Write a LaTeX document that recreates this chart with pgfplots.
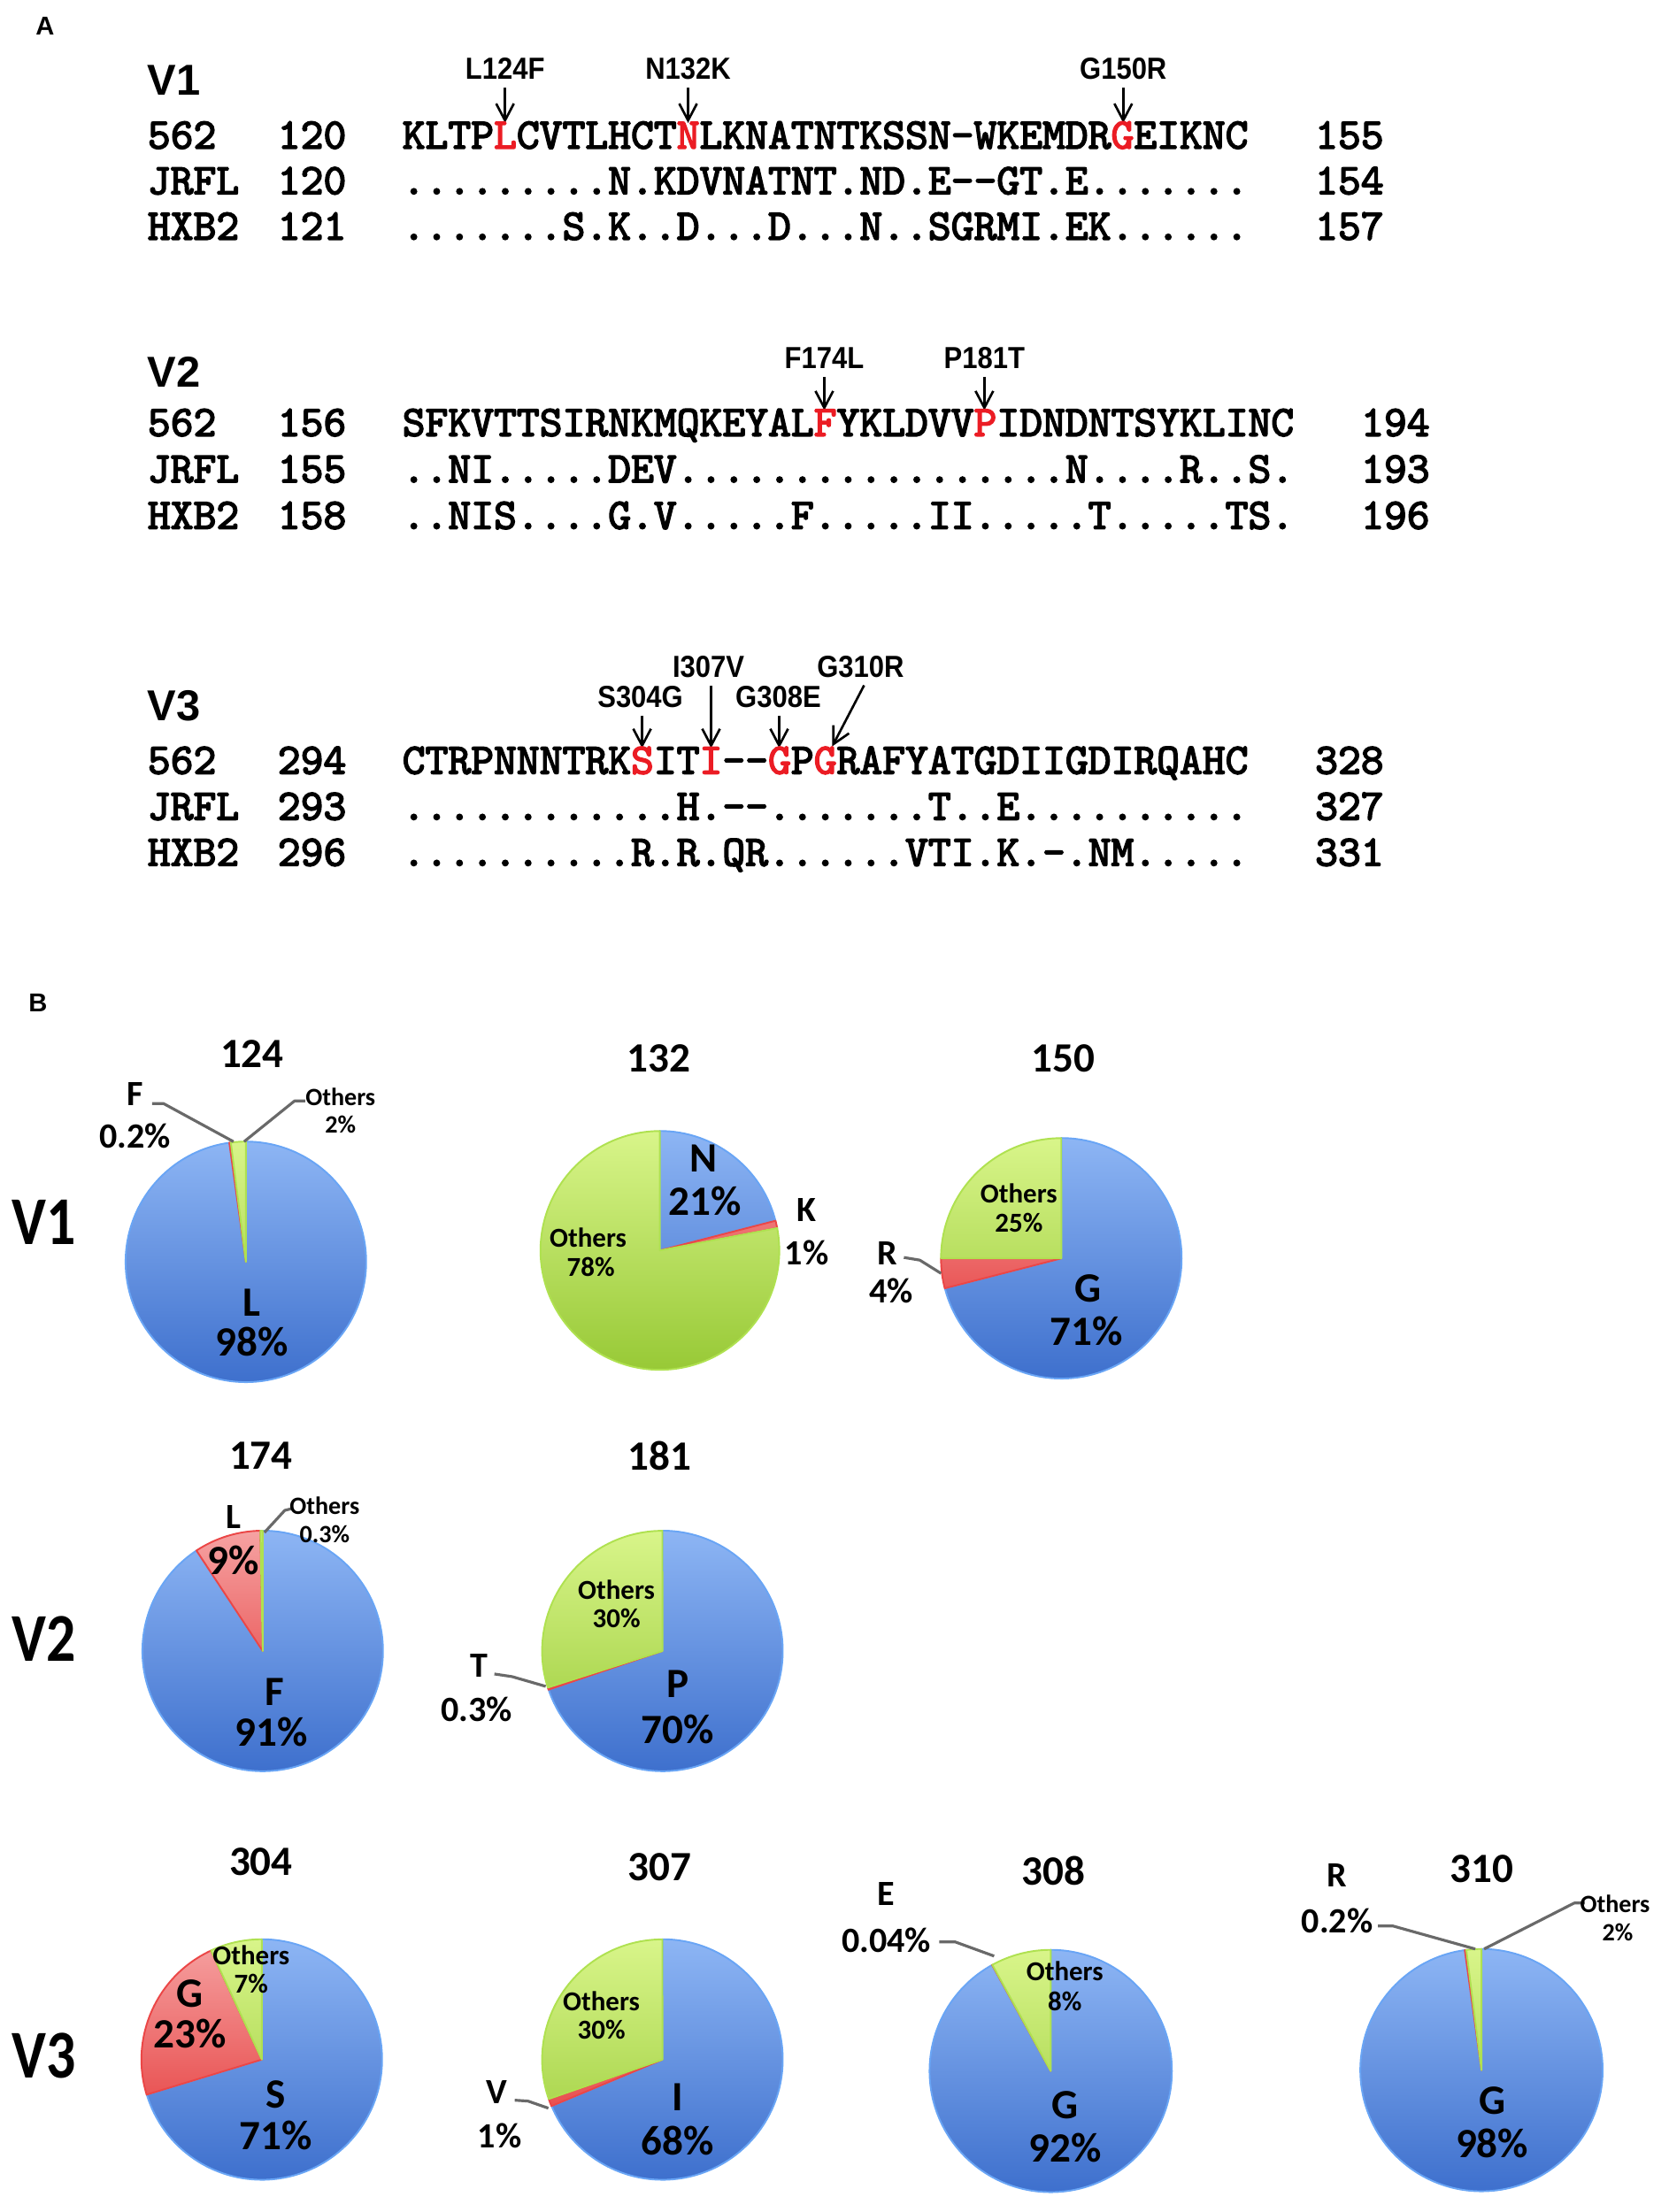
\documentclass[border=0pt]{standalone}
\usepackage{pgfplots}
\pgfplotsset{compat=1.18}
\usepackage{pgfplotstable}
\usetikzlibrary{arrows.meta}
\usepackage{fontspec}
\setmainfont{Liberation Sans}
\newfontfamily\narrowsans{Liberation Sans}[FakeStretch=0.9]
\newfontfamily\calfont{Carlito}
\newfontfamily\calnarrow{Carlito}[FakeStretch=0.85]
\newfontfamily\seqfont{lmmono10-regular}[Extension=.otf, FakeBold=3.2]

% colours
\definecolor{mutred}{RGB}{235,28,36}
\definecolor{blueTop}{RGB}{143,183,245}
\definecolor{blueBot}{RGB}{60,110,204}
\definecolor{blueEdge}{RGB}{105,165,245}
\definecolor{greenTop}{RGB}{218,246,140}
\definecolor{greenBot}{RGB}{150,200,52}
\definecolor{greenEdge}{RGB}{175,225,80}
\definecolor{redTop}{RGB}{246,165,165}
\definecolor{redBot}{RGB}{226,40,40}
\definecolor{redEdge}{RGB}{235,70,70}
\definecolor{leader}{RGB}{105,105,105}

% fonts
\newcommand\seqf{\seqfont\fontsize{14pt}{14pt}\selectfont}
\newcommand\regf{\bfseries\fontsize{13.9pt}{13.9pt}\selectfont}
\newcommand\mutf{\narrowsans\bfseries\fontsize{9.8pt}{9.8pt}\selectfont}
\newcommand\panf{\bfseries\fontsize{8.3pt}{8.3pt}\selectfont}
\newcommand\tlf{\calfont\bfseries\fontsize{13.4pt}{13.4pt}\selectfont}
\newcommand\olf{\calfont\bfseries\fontsize{11.4pt}{11.4pt}\selectfont}
\newcommand\smf{\calfont\bfseries\fontsize{8pt}{8pt}\selectfont}
\newcommand\inpf{\calfont\bfseries\fontsize{8.8pt}{8.8pt}\selectfont}
\newcommand\vf{\calnarrow\bfseries\fontsize{22pt}{22pt}\selectfont}

\newcommand\R[1]{\textcolor{mutred}{#1}}
\newcommand\hy{\mbox{-}}

% residue frequencies at each position (percent), clockwise from 12 o'clock
\pgfplotstableread{
res pct col
L 98 blue
F 0.2 red
Others 2 green
}\pieA
\pgfplotstableread{
res pct col
N 21 blue
K 1 red
Others 78 green
}\pieB
\pgfplotstableread{
res pct col
G 71 blue
R 4 red
Others 25 green
}\pieC
\pgfplotstableread{
res pct col
F 91 blue
L 9 red
Others 0.3 green
}\pieD
\pgfplotstableread{
res pct col
P 70 blue
T 0.3 red
Others 30 green
}\pieE
\pgfplotstableread{
res pct col
S 71 blue
G 23 red
Others 7 green
}\pieF
\pgfplotstableread{
res pct col
I 68 blue
V 1 red
Others 30 green
}\pieG
\pgfplotstableread{
res pct col
G 92 blue
E 0.04 red
Others 8 green
}\pieH
\pgfplotstableread{
res pct col
G 98 blue
R 0.2 red
Others 2 green
}\pieI

% one wedge: start angle, end angle (degrees clockwise from top), colour name
\newcommand\pieslice[3]{%
  \pgfmathsetmacro\psx{sin(#1)}%
  \pgfmathsetmacro\psy{cos(#1)}%
  \pgfmathsetmacro\psa{90-#1}%
  \pgfmathsetmacro\psb{90-#2}%
  \begin{scope}
    \clip (axis cs:0,0) -- (axis cs:\psx,\psy)
      arc[start angle=\psa, end angle=\psb, radius=\pierad cm] -- cycle;
    \shade[top color=#3Top, bottom color=#3Bot]
      (axis cs:-1.05,-1.05) rectangle (axis cs:1.05,1.05);
  \end{scope}
  \draw[#3Edge, line width=0.55pt, line join=round] (axis cs:0,0) -- (axis cs:\psx,\psy)
      arc[start angle=\psa, end angle=\psb, radius=\pierad cm] -- cycle;
}

% whole pie from a table
\newcommand\drawpie[1]{%
  \pgfplotstablegetrowsof{#1}%
  \pgfmathtruncatemacro\pielast{\pgfplotsretval-1}%
  \gdef\pietot{0}%
  \pgfplotsforeachungrouped \k in {0,...,\pielast}{%
    \pgfplotstablegetelem{\k}{pct}\of{#1}%
    \pgfmathsetmacro\pietmp{\pietot+\pgfplotsretval}%
    \global\let\pietot\pietmp}%
  \gdef\piestart{0}%
  \pgfplotsforeachungrouped \k in {0,...,\pielast}{%
    \pgfplotstablegetelem{\k}{pct}\of{#1}%
    \pgfmathsetmacro\piefrac{\pgfplotsretval/\pietot}%
    \pgfmathsetmacro\pieend{\piestart+360*\piefrac}%
    \pgfplotstablegetelem{\k}{col}\of{#1}%
    \edef\piecol{\pgfplotsretval}%
    \pieslice{\piestart}{\pieend}{\piecol}%
    \global\let\piestart\pieend}%
}

% pie axis: table, centre x, centre y, radius (all in px from the top left)
\newcommand\pie[4]{%
  \pgfmathsetmacro\pcx{0.01*#2}%
  \pgfmathsetmacro\pcy{-0.01*#3}%
  \pgfmathsetmacro\pierad{0.01*#4}%
  \pgfmathsetmacro\piewd{0.02*#4}%
  \begin{axis}[at={(\pcx cm,\pcy cm)}, anchor=center, scale only axis,
      width=\piewd cm, height=\piewd cm,
      xmin=-1, xmax=1, ymin=-1, ymax=1, hide axis, clip=false]
    \pgfplotsextra{\drawpie{#1}}
  \end{axis}
}

\tikzset{arr/.style={line width=0.75pt, -{Straight Barb[length=0.19cm, width=0.2cm]}},
  lead/.style={leader, line width=0.9pt, line join=round}}

\begin{document}
\begin{tikzpicture}
\useasboundingbox (0,0) rectangle (18.85,-25);

% V1 pies
\pie{\pieA}{278}{1427}{136}
\pie{\pieB}{746}{1414}{135}
\pie{\pieC}{1200}{1423}{136}
% V2 pies
\pie{\pieD}{297}{1867}{136}
\pie{\pieE}{749}{1867}{136}
% V3 pies
\pie{\pieF}{296}{2329}{136}
\pie{\pieG}{749}{2329}{136}
\pie{\pieH}{1188}{2342}{137}
\pie{\pieI}{1675}{2341}{137}

\begin{scope}[x=0.01cm, y=-0.01cm, every node/.style={inner sep=0pt, outer sep=0pt}]
% ---------------- Panel A ----------------
\node[font=\panf] at (51,29) {A};

% V1
\node[anchor=base west, font=\regf] at (167,108) {V1};
\node[anchor=base, font=\mutf] at (571,90) {L124F};
\node[anchor=base, font=\mutf] at (778,90) {N132K};
\node[anchor=base, font=\mutf] at (1270,90) {G150R};
\draw[arr] (571,99) -- (571,139);
\draw[arr] (778,99) -- (778,139);
\draw[arr] (1270,99) -- (1270,139);
\node[anchor=base west, font=\seqf] at (167,168) {562};
\node[anchor=base west, font=\seqf] at (314,168) {120};
\node[anchor=base west, font=\seqf] at (455,168) {KLTP\R{L}CVTLHCT\R{N}LKNATNTKSSN\hy WKEMDR\R{G}EIKNC};
\node[anchor=base west, font=\seqf] at (1487,168) {155};
\node[anchor=base west, font=\seqf] at (167,219.5) {JRFL};
\node[anchor=base west, font=\seqf] at (314,219.5) {120};
\node[anchor=base west, font=\seqf] at (455,219.5) {.........N.KDVNATNT.ND.E\hy\hy GT.E.......};
\node[anchor=base west, font=\seqf] at (1487,219.5) {154};
\node[anchor=base west, font=\seqf] at (167,271) {HXB2};
\node[anchor=base west, font=\seqf] at (314,271) {121};
\node[anchor=base west, font=\seqf] at (455,271) {.......S.K..D...D...N..SGRMI.EK......};
\node[anchor=base west, font=\seqf] at (1487,271) {157};

% V2
\node[anchor=base west, font=\regf] at (167,438) {V2};
\node[anchor=base, font=\mutf] at (932,417) {F174L};
\node[anchor=base, font=\mutf] at (1113,417) {P181T};
\draw[arr] (932,426) -- (932,464);
\draw[arr] (1113,426) -- (1113,464);
\node[anchor=base west, font=\seqf] at (167,493) {562};
\node[anchor=base west, font=\seqf] at (314,493) {156};
\node[anchor=base west, font=\seqf] at (455,493) {SFKVTTSIRNKMQKEYAL\R{F}YKLDVV\R{P}IDNDNTSYKLINC};
\node[anchor=base west, font=\seqf] at (1539,493) {194};
\node[anchor=base west, font=\seqf] at (167,545.5) {JRFL};
\node[anchor=base west, font=\seqf] at (314,545.5) {155};
\node[anchor=base west, font=\seqf] at (455,545.5) {..NI.....DEV.................N....R..S.};
\node[anchor=base west, font=\seqf] at (1539,545.5) {193};
\node[anchor=base west, font=\seqf] at (167,598) {HXB2};
\node[anchor=base west, font=\seqf] at (314,598) {158};
\node[anchor=base west, font=\seqf] at (455,598) {..NIS....G.V.....F.....II.....T.....TS.};
\node[anchor=base west, font=\seqf] at (1539,598) {196};

% V3
\node[anchor=base west, font=\regf] at (167,815) {V3};
\node[anchor=base, font=\mutf] at (724,800) {S304G};
\node[anchor=base, font=\mutf] at (801,766) {I307V};
\node[anchor=base, font=\mutf] at (880,800) {G308E};
\node[anchor=base, font=\mutf] at (973,766) {G310R};
\draw[arr] (726,809) -- (726,846);
\draw[arr] (804,775) -- (804,846);
\draw[arr] (881,809) -- (881,846);
\draw[arr] (977,775) -- (941,844);
\node[anchor=base west, font=\seqf] at (167,875) {562};
\node[anchor=base west, font=\seqf] at (314,875) {294};
\node[anchor=base west, font=\seqf] at (455,875) {CTRPNNNTRK\R{S}IT\R{I}\hy\hy\R{G}P\R{G}RAFYATGDIIGDIRQAHC};
\node[anchor=base west, font=\seqf] at (1487,875) {328};
\node[anchor=base west, font=\seqf] at (167,927) {JRFL};
\node[anchor=base west, font=\seqf] at (314,927) {293};
\node[anchor=base west, font=\seqf] at (455,927) {............H.\hy\hy.......T..E..........};
\node[anchor=base west, font=\seqf] at (1487,927) {327};
\node[anchor=base west, font=\seqf] at (167,979) {HXB2};
\node[anchor=base west, font=\seqf] at (314,979) {296};
\node[anchor=base west, font=\seqf] at (455,979) {..........R.R.QR......VTI.K.\hy.NM.....};
\node[anchor=base west, font=\seqf] at (1487,979) {331};

% ---------------- Panel B ----------------
\node[font=\panf] at (43,1134) {B};
\node[font=\vf] at (50,1382) {V1};
\node[font=\vf] at (50,1853) {V2};
\node[font=\vf] at (50,2325) {V3};

% titles
\node[font=\tlf] at (285,1192) {124};
\node[font=\tlf] at (745,1197) {132};
\node[font=\tlf] at (1202,1197) {150};
\node[font=\tlf] at (295,1646) {174};
\node[font=\tlf] at (746,1646) {181};
\node[font=\tlf] at (295,2105) {304};
\node[font=\tlf] at (746,2111) {307};
\node[font=\tlf] at (1191,2116) {308};
\node[font=\tlf] at (1675,2113) {310};

% pie 124
\draw[lead] (172,1248) -- (185,1248) -- (264,1291);
\draw[lead] (345,1245) -- (333,1245) -- (276,1291);
\node[font=\olf] at (153,1237) {F};
\node[font=\olf] at (153,1285) {0.2\%};
\node[font=\smf] at (385,1240) {Others};
\node[font=\smf] at (385,1272) {2\%};
\node[font=\tlf] at (285,1473) {L};
\node[font=\tlf] at (285,1517) {98\%};
% pie 132
\node[font=\tlf] at (795,1310) {N};
\node[font=\tlf] at (797,1358) {21\%};
\node[font=\olf] at (912,1368) {K};
\node[font=\olf] at (912,1417) {1\%};
\node[font=\inpf] at (665,1400) {Others};
\node[font=\inpf] at (668,1433) {78\%};
% pie 150
\draw[lead] (1022,1422) -- (1040,1425) -- (1064,1440);
\node[font=\inpf] at (1152,1350) {Others};
\node[font=\inpf] at (1152,1383) {25\%};
\node[font=\olf] at (1003,1417) {R};
\node[font=\olf] at (1008,1460) {4\%};
\node[font=\tlf] at (1230,1457) {G};
\node[font=\tlf] at (1228,1505) {71\%};
% pie 174
\draw[lead] (330,1706) -- (322,1708) -- (299,1733);
\node[font=\olf] at (264,1715) {L};
\node[font=\tlf] at (264,1764) {9\%};
\node[font=\smf] at (367,1703) {Others};
\node[font=\smf] at (367,1735) {0.3\%};
\node[font=\tlf] at (310,1913) {F};
\node[font=\tlf] at (307,1959) {91\%};
% pie 181
\draw[lead] (559,1893) -- (579,1896) -- (617,1907);
\node[font=\inpf] at (697,1798) {Others};
\node[font=\inpf] at (697,1830) {30\%};
\node[font=\olf] at (542,1884) {T};
\node[font=\olf] at (539,1933) {0.3\%};
\node[font=\tlf] at (766,1904) {P};
\node[font=\tlf] at (766,1956) {70\%};
% pie 304
\node[font=\tlf] at (215,2254) {G};
\node[font=\tlf] at (215,2300) {23\%};
\node[font=\inpf] at (284,2211) {Others};
\node[font=\inpf] at (284,2243) {7\%};
\node[font=\tlf] at (312,2369) {S};
\node[font=\tlf] at (312,2415) {71\%};
% pie 307
\draw[lead] (582,2375) -- (597,2376) -- (620,2384);
\node[font=\inpf] at (680,2263) {Others};
\node[font=\inpf] at (680,2295) {30\%};
\node[font=\olf] at (562,2366) {V};
\node[font=\olf] at (565,2415) {1\%};
\node[font=\tlf] at (766,2372) {I};
\node[font=\tlf] at (766,2421) {68\%};
% pie 308
\draw[lead] (1062,2196) -- (1080,2196) -- (1124,2212);
\node[font=\olf] at (1002,2142) {E};
\node[font=\olf] at (1002,2194) {0.04\%};
\node[font=\inpf] at (1204,2229) {Others};
\node[font=\inpf] at (1204,2263) {8\%};
\node[font=\tlf] at (1204,2381) {G};
\node[font=\tlf] at (1204,2429) {92\%};
% pie 310
\draw[lead] (1558,2178) -- (1575,2178) -- (1668,2204);
\draw[lead] (1792,2152) -- (1780,2152) -- (1678,2204);
\node[font=\olf] at (1512,2121) {R};
\node[font=\olf] at (1512,2172) {0.2\%};
\node[font=\smf] at (1826,2153) {Others};
\node[font=\smf] at (1829,2185) {2\%};
\node[font=\tlf] at (1687,2376) {G};
\node[font=\tlf] at (1687,2424) {98\%};
\end{scope}
\end{tikzpicture}
\end{document}
